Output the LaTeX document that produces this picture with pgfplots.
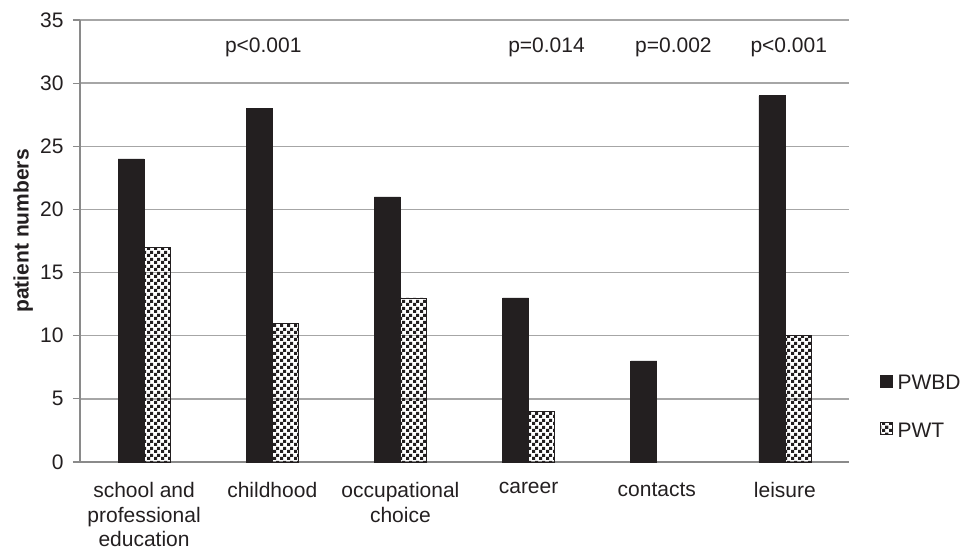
\documentclass[border=0pt]{standalone}
\usepackage{fontspec}
\setmainfont{Liberation Sans}
\usepackage{pgfplots}
\pgfplotsset{compat=1.18}
\usetikzlibrary{patterns}
\definecolor{barblack}{HTML}{231F20}
\definecolor{gridgray}{HTML}{A6A6A6}
\definecolor{axisgray}{HTML}{8A8A8A}
\pgfdeclarepatternformonly{mycheck}{\pgfpointorigin}{\pgfpoint{7bp}{7bp}}{\pgfpoint{7bp}{7bp}}{%
 \pgfpathrectangle{\pgfpointorigin}{\pgfpoint{3.5bp}{3.5bp}}%
 \pgfpathrectangle{\pgfpoint{3.5bp}{3.5bp}}{\pgfpoint{3.5bp}{3.5bp}}%
 \pgfusepath{fill}}
\pgfplotsset{
  /pgfplots/ybar legend/.style={/pgfplots/legend image code/.code={\draw[##1, line width=0.6bp] (0bp,-4.5bp) rectangle (12bp,7.5bp);}},
}
\begin{document}
\begin{tikzpicture}[font=\fontsize{21bp}{24.5bp}\selectfont, text=barblack]
\useasboundingbox (-80bp,-89bp) rectangle (882bp,462bp);
\begin{axis}[
  scale only axis, width=769bp, height=442bp,
  xmin=-0.5, xmax=5.5, ymin=0, ymax=35,
  ybar=0pt, bar width=26bp,
  axis x line*=bottom, axis y line*=left,
  axis line style={draw=axisgray, line width=1.5bp},
  ytick={0,5,...,35},
  xtick={0,1,2,3,4,5},
  xticklabels={{school and\\professional\\education}, childhood, {occupational\\choice}, career, contacts, leisure},
  xticklabel style={align=center, yshift=-10bp},
  major x tick style={draw=none},
  tick align=outside, major tick length=7bp,
  major y tick style={draw=axisgray, line width=1.2bp},
  yticklabel style={xshift=-6bp},
  /pgf/number format/assume math mode=true,
  ymajorgrids, major grid style={draw=gridgray, line width=1.3bp},
  ylabel={\bfseries patient numbers},
  ylabel style={at={(axis description cs:-0.074,0.523)}, anchor=center},
  legend style={draw=none, fill=none, at={(1.04,0.198)}, anchor=north west,
    row sep=32bp, inner sep=0pt, nodes={inner sep=0bp, text height=15bp, text depth=0bp},
    /tikz/every odd column/.append style={column sep=5bp}},
  legend cell align=left,
  clip=false,
]
\addplot[fill=barblack, draw=barblack, line width=0.6bp, bar shift=-13bp] coordinates {(0,24) (1,28) (2,21) (3,13) (4,8) (5,29)};
\addlegendentry{PWBD}
\addplot[pattern=mycheck, pattern color=barblack, draw=barblack, line width=0.6bp, bar shift=13bp] coordinates {(0,17) (1,11) (2,13) (3,4) (5,10)};
\addlegendentry{PWT}
\node at (axis cs:0.93,32.86) {p<0.001};
\node at (axis cs:3.14,32.86) {p=0.014};
\node at (axis cs:4.13,32.86) {p=0.002};
\node at (axis cs:5.03,32.86) {p<0.001};
\end{axis}
\end{tikzpicture}
\end{document}
